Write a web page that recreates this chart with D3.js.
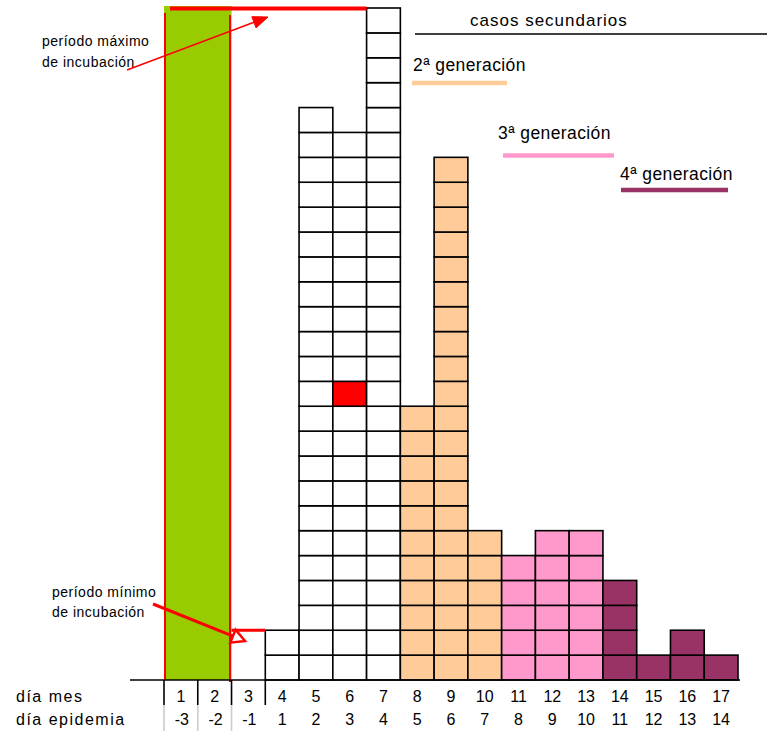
<!DOCTYPE html>
<html><head><meta charset="utf-8">
<script src="https://cdn.jsdelivr.net/npm/d3@7/dist/d3.min.js"></script>
<style>
html,body{margin:0;padding:0;background:#fff;}
svg{display:block;font-family:"Liberation Sans",Arial,sans-serif;}
</style></head>
<body>
<script>
// ---- data ----
const diaMes = [1,2,3,4,5,6,7,8,9,10,11,12,13,14,15,16,17];
const diaEpidemia = [-3,-2,-1,1,2,3,4,5,6,7,8,9,10,11,12,13,14];
const casos = [0,0,0,2,23,22,27,11,21,6,5,6,6,4,1,2,1];
const generacion = ["","","","1","1","1","1","2","2","2","3","3","3","4","4","4","4"];
const casoIndice = {dia: 6, celda: 12};
const generaciones = ["2ª generación","3ª generación","4ª generación"];
const colores = {"1":"#ffffff","2":"#ffcc99","3":"#ff99cc","4":"#993366"};

const W = 767, H = 731;
const svg = d3.select("body").append("svg").attr("width", W).attr("height", H);

const x = d3.scaleBand().domain(diaMes).range([164, 738]).padding(0);
const y = d3.scaleLinear().domain([0, d3.max(casos)]).range([680, 8]);
const bw = x.bandwidth();
const ch = y(0) - y(1);

// green band (incubation window)
svg.append("rect")
  .attr("x", x(1)).attr("y", y(27) - 2)
  .attr("width", x(3) - x(1)).attr("height", y(0) - y(27) + 2)
  .attr("fill", "#99cc00");
svg.append("rect").attr("x", Math.round(x(1))).attr("y", 13).attr("width", 2).attr("height", y(0) - 13)
  .attr("fill", "#ff0000");
svg.append("rect").attr("x", Math.round(x(3)) - 3).attr("y", 15).attr("width", 2).attr("height", y(0) + 2 - 15)
  .attr("fill", "#ff0000");

// cells
const cells = [];
diaMes.forEach((d, i) => {
  for (let k = 0; k < casos[i]; k++) {
    cells.push({dia: d, k: k, gen: generacion[i]});
  }
});
svg.append("g").selectAll("rect").data(cells).join("rect")
  .attr("x", c => x(c.dia))
  .attr("y", c => y(c.k + 1))
  .attr("width", bw).attr("height", ch)
  .attr("fill", c => (c.dia === casoIndice.dia && c.k + 1 === casoIndice.celda) ? "#ff0000" : colores[c.gen])
  .attr("stroke", "#000").attr("stroke-width", 1.6);

// baseline
svg.append("line").attr("x1", 130).attr("x2", 740).attr("y1", y(0)).attr("y2", y(0))
  .attr("stroke", "#000").attr("stroke-width", 1.6);

// ticks for first days
[1,2,3,4].forEach(d => {
  svg.append("line").attr("x1", x(d)).attr("x2", x(d)).attr("y1", y(0)).attr("y2", 705)
    .attr("stroke", "#000").attr("stroke-width", 1.6);
});
[1,2,3].forEach(d => {
  svg.append("line").attr("x1", x(d)).attr("x2", x(d)).attr("y1", 705).attr("y2", 731)
    .attr("stroke", "#cccccc").attr("stroke-width", 1.6);
});

// axis labels
const axisFont = 16;
svg.append("g").selectAll("text").data(diaMes).join("text")
  .attr("x", d => x(d) + bw/2).attr("y", 702)
  .attr("text-anchor", "middle").attr("font-size", axisFont).attr("fill", "#000")
  .text(d => d);
svg.append("g").selectAll("text").data(diaEpidemia).join("text")
  .attr("x", (d, i) => x(diaMes[i]) + bw/2 + (d < 0 ? 1 : 0)).attr("y", 725)
  .attr("text-anchor", "middle").attr("font-size", axisFont).attr("fill", "#000")
  .text(d => d);
svg.append("text").attr("x", 16).attr("y", 702).attr("font-size", axisFont)
  .attr("letter-spacing", 1.5).text("día mes");
svg.append("text").attr("x", 16).attr("y", 725).attr("font-size", axisFont)
  .attr("letter-spacing", 1.5).text("día epidemia");

// max incubation red line
svg.append("line").attr("x1", 170).attr("x2", x(7)).attr("y1", y(27)+0.5).attr("y2", y(27)+0.5)
  .attr("stroke", "#ff0000").attr("stroke-width", 4);
// min incubation red line
svg.append("line").attr("x1", x(3)).attr("x2", x(4)).attr("y1", y(2)).attr("y2", y(2))
  .attr("stroke", "#ff0000").attr("stroke-width", 3);

// arrows
function arrow(x1, y1, x2, y2, sw, len, wid, filled) {
  const a = Math.atan2(y2 - y1, x2 - x1);
  const bx = x2 - len * Math.cos(a), by = y2 - len * Math.sin(a);
  svg.append("line").attr("x1", x1).attr("y1", y1).attr("x2", bx).attr("y2", by)
    .attr("stroke", "#ff0000").attr("stroke-width", sw);
  const px = -Math.sin(a) * wid, py = Math.cos(a) * wid;
  svg.append("path")
    .attr("d", `M${x2},${y2}L${bx+px},${by+py}L${bx-px},${by-py}Z`)
    .attr("fill", filled ? "#ff0000" : "none")
    .attr("stroke", "#ff0000").attr("stroke-width", filled ? 1 : 2.5)
    .attr("stroke-linejoin", "miter");
}
arrow(127, 70, 268, 17, 1.5, 15, 6, true);
arrow(153, 604, 245, 641, 3, 13, 7, false);

// annotation text
const annFont = 14;
svg.append("text").attr("x", 42).attr("y", 46).attr("font-size", annFont).attr("letter-spacing", 0.5).text("período máximo");
svg.append("text").attr("x", 42).attr("y", 67).attr("font-size", annFont).attr("letter-spacing", 0.5).text("de incubación");
svg.append("text").attr("x", 52).attr("y", 597).attr("font-size", annFont).attr("letter-spacing", 0.5).text("período mínimo");
svg.append("text").attr("x", 52).attr("y", 617).attr("font-size", annFont).attr("letter-spacing", 0.5).text("de incubación");

// legend
svg.append("text").attr("x", 470).attr("y", 26).attr("font-size", 17).attr("letter-spacing", 1).text("casos secundarios");
svg.append("line").attr("x1", 415).attr("x2", 767).attr("y1", 34).attr("y2", 34)
  .attr("stroke", "#000").attr("stroke-width", 1.6);
const legPos = [
  {tx: 413, ty: 71, lx1: 412, lx2: 507, ly: 83},
  {tx: 498, ty: 139, lx1: 503, lx2: 614, ly: 155.5},
  {tx: 620, ty: 180, lx1: 621, lx2: 728, ly: 190}
];
const legCol = ["2","3","4"];
generaciones.forEach((g, i) => {
  const p = legPos[i];
  svg.append("text").attr("x", p.tx).attr("y", p.ty).attr("font-size", 17.5).attr("letter-spacing", 0.4).text(g);
  svg.append("line").attr("x1", p.lx1).attr("x2", p.lx2).attr("y1", p.ly).attr("y2", p.ly)
    .attr("stroke", colores[legCol[i]]).attr("stroke-width", 4.5);
});
</script>
</body></html>
